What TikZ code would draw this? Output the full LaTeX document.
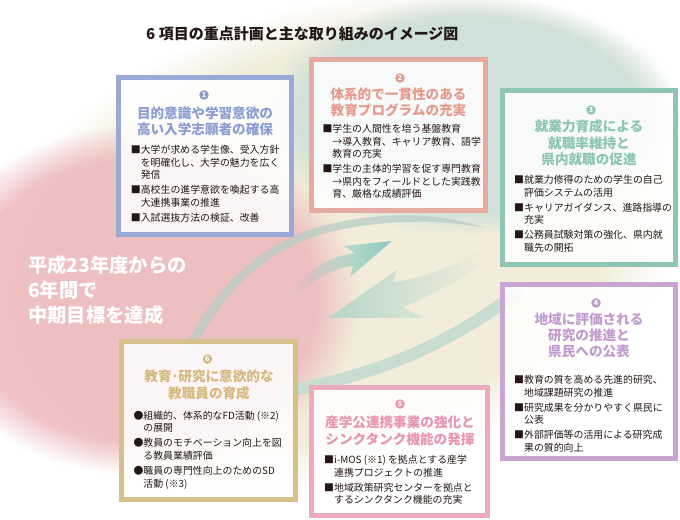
\documentclass[tikz,border=0pt]{standalone}
\usepackage{fontspec}
\newfontfamily\jp{Noto Sans CJK JP}
\usetikzlibrary{fadings}
\definecolor{ink}{HTML}{231815}
\definecolor{cA}{HTML}{9BA9D6}\definecolor{tA}{HTML}{8C9CD4}
\definecolor{cB}{HTML}{E5AAA1}\definecolor{tB}{HTML}{E69A8D}
\definecolor{cC}{HTML}{8FC6B3}\definecolor{tC}{HTML}{8CC5B1}
\definecolor{cD}{HTML}{C8A6D0}\definecolor{tD}{HTML}{C19BD0}
\definecolor{cE}{HTML}{EBAABD}\definecolor{tE}{HTML}{E895B0}
\definecolor{cF}{HTML}{D7C18B}\definecolor{tF}{HTML}{D5B97F}
\definecolor{creambg}{HTML}{F2EDDA}
\definecolor{pinkbg}{HTML}{EEB8BC}
\definecolor{greenbg}{HTML}{CFE1D8}
\definecolor{bandA}{HTML}{B6CCC6}
\definecolor{bandB}{HTML}{C8DCD2}
\definecolor{arrA}{HTML}{8CCABF}
\definecolor{arrB}{HTML}{B6D7CA}
\tikzfading[name=fadeL, left color=transparent!100, middle color=transparent!5, right color=transparent!0]
\tikzfading[name=fadeR, left color=transparent!0, middle color=transparent!10, right color=transparent!100]
\tikzset{
  box/.style={draw, line width=5bp, fill=white, fill opacity=0.86, inner sep=0},
  head/.style={font=\jp\bfseries\fontsize{13.6bp}{16.3bp}\selectfont, align=center, inner sep=0, anchor=north},
  body/.style={font=\jp\fontsize{9.9bp}{12.6bp}\selectfont, align=left, inner sep=0, anchor=north west, text=ink},
  num/.style={circle, inner sep=0, minimum size=9.5bp, text=white, font=\jp\bfseries\fontsize{7bp}{7bp}\selectfont},
  blob/.style={path fading=circle with fuzzy edge 20 percent}
}
\begin{document}
\begin{tikzpicture}[x=1bp,y=-1bp]
\useasboundingbox (0,0) rectangle (680,520);
\fill[white] (0,0) rectangle (680,520);
% background blobs
\begin{scope}[transform canvas={shift={(335,240)}, rotate=18}]
  \fill[creambg, blob] (0,0) ellipse [x radius=370, y radius=235];
\end{scope}
\fill[pinkbg, blob, fill opacity=0.85] (140,300) ellipse [x radius=220, y radius=175];
\fill[greenbg, blob] (470,115) ellipse [x radius=210, y radius=120];
% swirl bands
\fill[bandA, fill opacity=0.7] (183,352) .. controls (210,290) and (265,238) .. (330,224)
   .. controls (390,210) and (445,214) .. (485,228)
   .. controls (445,220) and (390,218) .. (330,232)
   .. controls (270,247) and (220,292) .. (194,352) -- cycle;
\draw[bandB, line width=12bp] (280,392) .. controls (370,378) and (450,345) .. (520,290);
% arrows
\fill[arrA, path fading=fadeL] (290,303) .. controls (305,285) and (330,268) .. (353,266)
   -- (350,277) -- (392,241) -- (343,246) -- (355,253)
   .. controls (330,256) and (305,272) .. (287,292) -- cycle;
\fill[arrB, path fading=fadeR] (328,318) -- (423,318) -- (403,307)
   .. controls (425,298) and (455,283) .. (487,262) -- (480,251)
   .. controls (450,268) and (420,279) .. (393,282) -- (397,270) -- cycle;
% title
\node[anchor=west, inner sep=0, text=ink, font=\jp\bfseries\fontsize{15bp}{15bp}\selectfont] (title) at (146,34) {6 項目の重点計画と主な取り組みのイメージ図};
% left message
\node[anchor=north west, inner sep=0, text=white, align=left, font=\jp\bfseries\fontsize{19.3bp}{25bp}\selectfont] (goal) at (28,255.5) {平成23年度からの\\6年間で\\中期目標を達成};
% boxes
\node[box, draw=cA, minimum width=173bp, minimum height=157bp] (b1) at (205,156) {};
\node[box, draw=cB, minimum width=174bp, minimum height=151bp] (b2) at (398.5,135) {};
\node[box, draw=cC, minimum width=173bp, minimum height=174bp] (b3) at (589,177.5) {};
\node[box, draw=cD, minimum width=173bp, minimum height=174bp] (b4) at (589,371.5) {};
\node[box, draw=cE, minimum width=176bp, minimum height=128bp] (b5) at (399.5,451.5) {};
\node[box, draw=cF, minimum width=174bp, minimum height=158bp] (b6) at (208.5,420.5) {};
% numbers
\node[num, fill=tA] (n1) at (204,95) {1};
\node[num, fill=tB] (n2) at (400,78) {2};
\node[num, fill=tC] (n3) at (591,110) {3};
\node[num, fill=tD] (n4) at (596,303) {4};
\node[num, fill=tE] (n5) at (400,404) {5};
\node[num, fill=tF] (n6) at (207.5,359) {6};
% headings
\node[head, text=tA] (h1) at (205,106.2) {目的意識や学習意欲の\\高い入学志願者の確保};
\node[head, text=tB] (h2) at (398.5,87.5) {体系的で一貫性のある\\教育プログラムの充実};
\node[head, text=tC] (h3) at (589,119.9) {就業力育成による\\就職率維持と\\県内就職の促進};
\node[head, text=tD] (h4) at (589,312.5) {地域に評価される\\研究の推進と\\県民への公表};
\node[head, text=tE] (h5) at (400,415.9) {産学公連携事業の強化と\\シンクタンク機能の発揮};
\node[head, text=tF] (h6) at (209,369.9) {教育･研究に意欲的な\\教職員の育成};
% bodies
\node[body] (t1) at (130.7,144.9) {■大学が求める学生像、受入方針\\\hspace*{1em}を明確化し、大学の魅力を広く\\\hspace*{1em}発信\\[2.5bp]■高校生の進学意欲を喚起する高\\\hspace*{1em}大連携事業の推進\\[2.5bp]■入試選抜方法の検証、改善};
\node[body] (t2) at (322.3,123.9) {■学生の人間性を培う基盤教育\\\hspace*{1em}→導入教育、キャリア教育、語学\\\hspace*{1em}教育の充実\\[2.5bp]■学生の主体的学習を促す専門教育\\\hspace*{1em}→県内をフィールドとした実践教\\\hspace*{1em}育、厳格な成績評価};
\node[body] (t3) at (514,174.9) {■就業力修得のための学生の自己\\\hspace*{1em}評価システムの活用\\[2.5bp]■キャリアガイダンス、進路指導の\\\hspace*{1em}充実\\[2.5bp]■公務員試験対策の強化、県内就\\\hspace*{1em}職先の開拓};
\node[body] (t4) at (514,374.9) {■教育の質を高める先進的研究、\\\hspace*{1em}地域課題研究の推進\\[2.5bp]■研究成果を分かりやすく県民に\\\hspace*{1em}公表\\[2.5bp]■外部評価等の活用による研究成\\\hspace*{1em}果の質的向上};
\node[body] (t5) at (324,454.9) {■i-MOS (※1) を拠点とする産学\\\hspace*{1em}連携プロジェクトの推進\\[2.5bp]■地域政策研究センターを拠点と\\\hspace*{1em}するシンクタンク機能の充実};
\node[body] (t6) at (133.3,410.6) {●組織的、体系的なFD活動 (※2)\\\hspace*{1em}の展開\\[2.5bp]●教員のモチベーション向上を図\\\hspace*{1em}る教員業績評価\\[2.5bp]●職員の専門性向上のためのSD\\\hspace*{1em}活動 (※3)};
\end{tikzpicture}
\end{document}
